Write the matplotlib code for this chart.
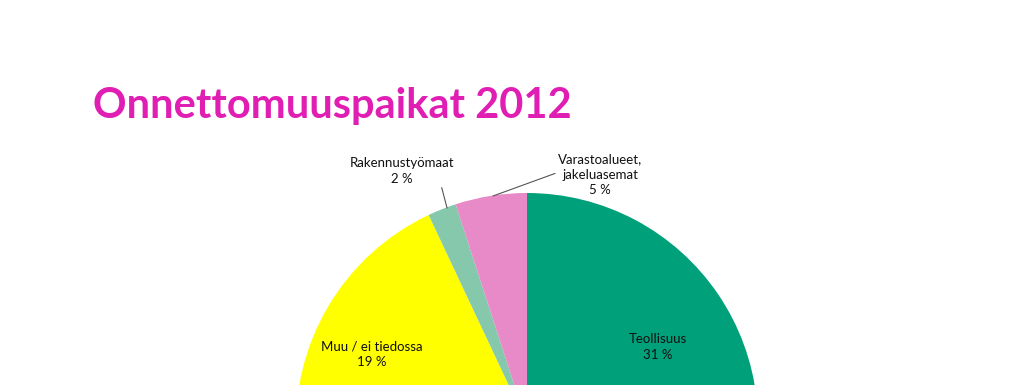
import matplotlib
matplotlib.use('Agg')
import matplotlib.pyplot as plt

# pie data, clockwise from 12 o'clock; the bottom part of the pie is cut off in the picture
categories = ['Teollisuus', 'Muut paikat', 'Muu / ei tiedossa', 'Rakennustyömaat', 'Varastoalueet,\njakeluasemat']
shares = [31, 43, 19, 2, 5]
colors = ['#00A07A', '#5B9BD5', '#FFFF00', '#85C8AC', '#E889C8']
title = 'Onnettomuuspaikat 2012'

plt.rcParams['font.family'] = ['Lato', 'DejaVu Sans']

fig = plt.figure(figsize=(10.24, 3.85), dpi=100)

# pie centre at (527, 424) px, radius 231 px
W, H = 1024, 385
cx, cy, r = 527, 424, 231
ax = fig.add_axes([(cx - r) / W, (H - cy - r) / H, 2 * r / W, 2 * r / H])
wedges, _ = ax.pie(shares, colors=colors, startangle=90, counterclock=False,
                   radius=1, wedgeprops=dict(linewidth=0))
ax.set_xlim(-1, 1)
ax.set_ylim(-1, 1)
ax.axis('off')

lab = dict(ha='center', va='center', fontsize=9.5, color='#111111', linespacing=1.35)

# labels inside the slices
ax.text(0.567, 0.333, f'{categories[0]}\n{shares[0]} %', **lab)
ax.text(-0.671, 0.303, f'{categories[2]}\n{shares[2]} %', **lab)

# labels outside with leader lines
ax.annotate(f'{categories[3]}\n{shares[3]} %', xy=(-0.346, 0.935), xytext=(-0.541, 1.095),
            annotation_clip=False, arrowprops=dict(arrowstyle='-', color='#555555', lw=0.8,
                                                    shrinkA=0, shrinkB=0,
                                                    relpos=(0.82, 0.75)), **lab)
ax.annotate(f'{categories[4]}\n{shares[4]} %', xy=(-0.147, 0.987), xytext=(0.316, 1.078),
            annotation_clip=False, arrowprops=dict(arrowstyle='-', color='#555555', lw=0.8,
                                                    shrinkA=0, shrinkB=0,
                                                    connectionstyle='angle,angleA=0,angleB=20,rad=0',
                                                    relpos=(0.0, 0.55)), **lab)

fig.text(93 / W, (H - 106) / H, title, fontsize=30, fontweight='bold', color='#E01EB4',
         ha='left', va='center')

fig.savefig('out.png', dpi=100)
